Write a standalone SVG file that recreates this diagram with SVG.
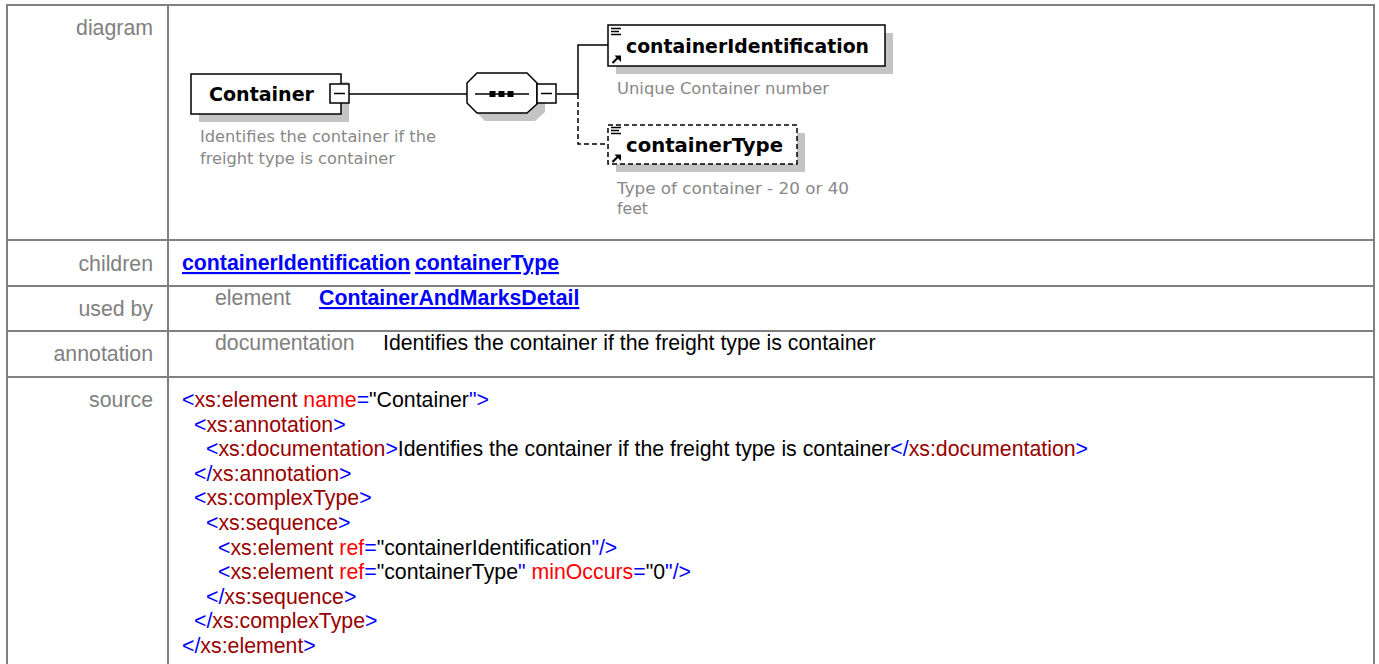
<svg xmlns="http://www.w3.org/2000/svg" width="1379" height="664" viewBox="0 0 1379 664">
  <style>
    .grid { stroke: #808080; stroke-width: 2; fill: none; }
    .lbl { font-family: "Liberation Sans", Arial, sans-serif; font-size: 21.3px; fill: #808080; }
    .txt { font-family: "Liberation Sans", Arial, sans-serif; font-size: 21.3px; fill: #000000; }
    .lnk { font-family: "Liberation Sans", Arial, sans-serif; font-size: 21.3px; font-weight: bold; fill: #0000ff; text-decoration: underline; }
    .src { font-family: "Liberation Sans", Arial, sans-serif; font-size: 21.3px; fill: #000000; white-space: pre; }
    .b { fill: #0000ff; }
    .e { fill: #990000; }
    .a { fill: #ff0000; }
    .box { fill: #ffffff; stroke: #000000; stroke-width: 1.5; }
    .opt { stroke-dasharray: 5 3; }
    .shadow { fill: #c4c4c4; }
    .name { font-family: "DejaVu Sans", Verdana, sans-serif; font-size: 19px; font-weight: bold; fill: #000000; }
    .doc { font-family: "DejaVu Sans", Verdana, sans-serif; font-size: 15.5px; fill: #888888; }
    .wire { stroke: #000000; stroke-width: 1.5; fill: none; }
  </style>
  <defs>
    <!-- "element reference" glyphs used in the child boxes -->
    <g id="refIcon">
      <path d="M0 0.5h10M0 3.5h8M0 6.5h10" stroke="#000" stroke-width="1.4" fill="none"/>
      <path d="M1.5 35l6-6" stroke="#000" stroke-width="2.2" fill="none"/>
      <path d="M3.5 27.5h6.5v6.5z" fill="#000"/>
    </g>
  </defs>

  <rect width="1379" height="664" fill="#ffffff"/>

  <!-- table frame -->
  <g id="table">
    <path class="grid" d="M7 670V5H1374V670"/>
    <path class="grid" d="M168 5V670"/>
    <path class="grid" d="M7 240H1374M7 286H1374M7 331H1374M7 377H1374"/>
  </g>

  <!-- row labels -->
  <g id="labels">
    <text class="lbl" x="153" y="35" text-anchor="end">diagram</text>
    <text class="lbl" x="153" y="271" text-anchor="end">children</text>
    <text class="lbl" x="153" y="316" text-anchor="end">used by</text>
    <text class="lbl" x="153" y="361" text-anchor="end">annotation</text>
    <text class="lbl" x="153" y="407" text-anchor="end">source</text>
  </g>

  <!-- connectors -->
  <g id="connectors">
    <path class="wire" d="M349 94H467"/>
    <path class="wire" d="M557 94H578V45H608"/>
    <path class="wire opt" d="M578 94V144H608"/>
  </g>

  <!-- Container element -->
  <g id="node-container">
    <rect class="shadow" x="199" y="82" width="150" height="40"/>
    <rect class="box" x="191" y="74" width="150" height="40"/>
    <text class="name" x="209" y="101" textLength="105" lengthAdjust="spacingAndGlyphs">Container</text>
    <rect class="box" x="330" y="84" width="19" height="19"/>
    <path d="M334 93.5H345" stroke="#000" stroke-width="1.5"/>
    <text class="doc" x="200" y="142" textLength="236" lengthAdjust="spacingAndGlyphs">Identifies the container if the</text>
    <text class="doc" x="200" y="164" textLength="195" lengthAdjust="spacingAndGlyphs">freight type is container</text>
  </g>

  <!-- sequence compositor -->
  <g id="node-sequence">
    <polygon class="shadow" points="485,81 535,81 545,91 545,112 535,121 485,121 475,111 475,91"/>
    <polygon class="box" points="477,73 527,73 537,83 537,104 527,113 477,113 467,103 467,83"/>
    <path d="M475 94H529" stroke="#000" stroke-width="1.5"/>
    <rect x="489.5" y="91" width="6" height="6" fill="#000"/>
    <rect x="498.5" y="91" width="6" height="6" fill="#000"/>
    <rect x="507.5" y="91" width="6" height="6" fill="#000"/>
    <rect class="box" x="537" y="84" width="19" height="19"/>
    <path d="M541 93.5H552" stroke="#000" stroke-width="1.5"/>
  </g>

  <!-- containerIdentification (required) -->
  <g id="node-containerIdentification">
    <rect class="shadow" x="616" y="33" width="277" height="41"/>
    <rect class="box" x="608" y="25" width="277" height="41"/>
    <use href="#refIcon" x="611" y="28"/>
    <text class="name" x="626" y="53" textLength="243" lengthAdjust="spacingAndGlyphs">containerIdentification</text>
    <text class="doc" x="617" y="94" textLength="212" lengthAdjust="spacingAndGlyphs">Unique Container number</text>
  </g>

  <!-- containerType (optional) -->
  <g id="node-containerType">
    <rect class="shadow" x="616" y="133" width="189" height="39"/>
    <rect class="box opt" x="608" y="125" width="189" height="39"/>
    <use href="#refIcon" x="611" y="127"/>
    <text class="name" x="626" y="152" textLength="157" lengthAdjust="spacingAndGlyphs">containerType</text>
    <text class="doc" x="617" y="194" textLength="232" lengthAdjust="spacingAndGlyphs">Type of container - 20 or 40</text>
    <text class="doc" x="617" y="214" textLength="31" lengthAdjust="spacingAndGlyphs">feet</text>
  </g>

  <!-- children / used by / annotation rows -->
  <g id="row-children">
    <text class="lnk" x="182" y="270">containerIdentification</text>
    <text class="lnk" x="415" y="270">containerType</text>
  </g>
  <g id="row-usedby">
    <text class="lbl" x="215" y="305">element</text>
    <text class="lnk" x="319" y="305">ContainerAndMarksDetail</text>
  </g>
  <g id="row-annotation">
    <text class="lbl" x="215" y="350">documentation</text>
    <text class="txt" x="383" y="350">Identifies the container if the freight type is container</text>
  </g>

  <!-- schema source -->
  <g id="row-source">
    <text class="src" x="182" y="407"><tspan class="b">&lt;</tspan><tspan class="e">xs:element</tspan> <tspan class="a">name</tspan><tspan class="b">=</tspan>"Container<tspan class="b">"&gt;</tspan></text>
    <text class="src" x="194" y="431.6"><tspan class="b">&lt;</tspan><tspan class="e">xs:annotation</tspan><tspan class="b">&gt;</tspan></text>
    <text class="src" x="206" y="456.2"><tspan class="b">&lt;</tspan><tspan class="e">xs:documentation</tspan><tspan class="b">&gt;</tspan>Identifies the container if the freight type is container<tspan class="b">&lt;/</tspan><tspan class="e">xs:documentation</tspan><tspan class="b">&gt;</tspan></text>
    <text class="src" x="194" y="480.8"><tspan class="b">&lt;/</tspan><tspan class="e">xs:annotation</tspan><tspan class="b">&gt;</tspan></text>
    <text class="src" x="194" y="505.4"><tspan class="b">&lt;</tspan><tspan class="e">xs:complexType</tspan><tspan class="b">&gt;</tspan></text>
    <text class="src" x="206" y="530"><tspan class="b">&lt;</tspan><tspan class="e">xs:sequence</tspan><tspan class="b">&gt;</tspan></text>
    <text class="src" x="218" y="554.6"><tspan class="b">&lt;</tspan><tspan class="e">xs:element</tspan> <tspan class="a">ref</tspan><tspan class="b">=</tspan>"containerIdentification<tspan class="b">"/&gt;</tspan></text>
    <text class="src" x="218" y="579.2"><tspan class="b">&lt;</tspan><tspan class="e">xs:element</tspan> <tspan class="a">ref</tspan><tspan class="b">=</tspan>"containerType<tspan class="b">"</tspan> <tspan class="a">minOccurs</tspan><tspan class="b">=</tspan>"0<tspan class="b">"/&gt;</tspan></text>
    <text class="src" x="206" y="603.8"><tspan class="b">&lt;/</tspan><tspan class="e">xs:sequence</tspan><tspan class="b">&gt;</tspan></text>
    <text class="src" x="194" y="628.4"><tspan class="b">&lt;/</tspan><tspan class="e">xs:complexType</tspan><tspan class="b">&gt;</tspan></text>
    <text class="src" x="182" y="653"><tspan class="b">&lt;/</tspan><tspan class="e">xs:element</tspan><tspan class="b">&gt;</tspan></text>
  </g>
</svg>
